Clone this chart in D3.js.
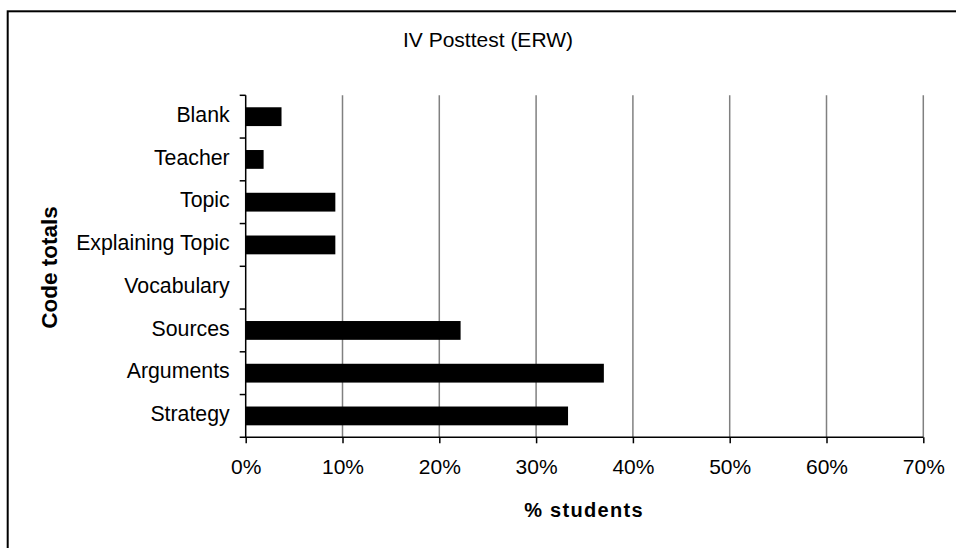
<!DOCTYPE html>
<html>
<head>
<meta charset="utf-8">
<script src="https://cdn.jsdelivr.net/npm/d3@7"></script>
<style>
  html, body { margin: 0; padding: 0; background: #fff; }
  svg { display: block; }
  text { font-family: "Liberation Sans", Arial, sans-serif; fill: #000; }
</style>
</head>
<body>
<svg id="chart" width="956" height="548"></svg>
<script>
const categories = ["Blank", "Teacher", "Topic", "Explaining Topic", "Vocabulary", "Sources", "Arguments", "Strategy"];
const values = [3.7, 1.85, 9.26, 9.26, 0, 22.2, 37.0, 33.3];
const xTicks = [0, 10, 20, 30, 40, 50, 60, 70];
const title = "IV Posttest (ERW)";
const xTitle = "% students";
const yTitle = "Code totals";

const svg = d3.select("#chart");
const plot = { left: 245.7, right: 923.3, top: 95.3, bottom: 437.3 };

// outer frame (extends beyond visible area on right/bottom)
svg.append("rect")
  .attr("x", 7.7).attr("y", 11.3)
  .attr("width", 1000).attr("height", 600)
  .attr("fill", "#fff").attr("stroke", "#000").attr("stroke-width", 2);

const x = d3.scaleLinear().domain([0, 70]).range([plot.left, plot.right]);
const y = d3.scaleBand().domain(categories).range([plot.top, plot.bottom])
  .paddingInner(0.56).paddingOuter(0.28);

// gridlines
svg.append("g")
  .selectAll("line")
  .data(xTicks.filter(d => d > 0))
  .join("line")
  .attr("x1", d => x(d)).attr("x2", d => x(d))
  .attr("y1", plot.top).attr("y2", plot.bottom)
  .attr("stroke", "#808080").attr("stroke-width", 1.5);

// bars
svg.append("g")
  .selectAll("rect")
  .data(categories.map((c, i) => ({ c, v: values[i] })))
  .join("rect")
  .attr("x", x(0))
  .attr("y", d => y(d.c))
  .attr("width", d => x(d.v) - x(0))
  .attr("height", y.bandwidth())
  .attr("fill", "#000");

// x axis
const xAxis = d3.axisBottom(x).tickValues(xTicks).tickFormat(d => d + "%").tickSize(6).tickPadding(16).tickSizeOuter(0);
const gx = svg.append("g").attr("transform", `translate(0,${plot.bottom})`).call(xAxis);
gx.select(".domain").remove();
gx.append("line").attr("x1", plot.left - 6).attr("x2", plot.right).attr("y1", 0).attr("y2", 0)
  .attr("stroke", "#000").attr("stroke-width", 1.5);
gx.selectAll(".tick line").attr("stroke", "#000").attr("stroke-width", 1.5);
gx.selectAll(".tick text").attr("font-size", "21px").attr("font-family", "Liberation Sans, Arial, sans-serif").attr("fill", "#000");

// y axis: category boundary ticks
const yAxis = d3.axisLeft(y).tickSize(0).tickPadding(16);
const gy = svg.append("g").attr("transform", `translate(${plot.left},0)`).call(yAxis);
gy.select(".domain").remove();
gy.append("line").attr("x1", 0).attr("x2", 0).attr("y1", plot.top).attr("y2", plot.bottom)
  .attr("stroke", "#000").attr("stroke-width", 1.5);
const step = y.step();
const boundaries = categories.map((c, i) => plot.top + i * step);
gy.selectAll(".bound").data(boundaries).join("line").attr("class", "bound")
  .attr("x1", -6).attr("x2", 0).attr("y1", d => d).attr("y2", d => d)
  .attr("stroke", "#000").attr("stroke-width", 1.5);
gy.selectAll(".tick text").attr("font-size", "21.3px").attr("dy", "0.24em")
  .attr("font-family", "Liberation Sans, Arial, sans-serif").attr("fill", "#000");

// titles
svg.append("text").attr("x", 488).attr("y", 47).attr("text-anchor", "middle")
  .attr("font-size", "21px").text(title);
svg.append("text").attr("x", 584).attr("y", 517).attr("text-anchor", "middle")
  .attr("font-size", "20px").attr("font-weight", "bold").attr("letter-spacing", "1.3px").text(xTitle);
svg.append("text").attr("transform", "translate(57,267.5) rotate(-90)").attr("text-anchor", "middle")
  .attr("font-size", "22.5px").attr("font-weight", "bold").text(yTitle);
</script>
</body>
</html>
